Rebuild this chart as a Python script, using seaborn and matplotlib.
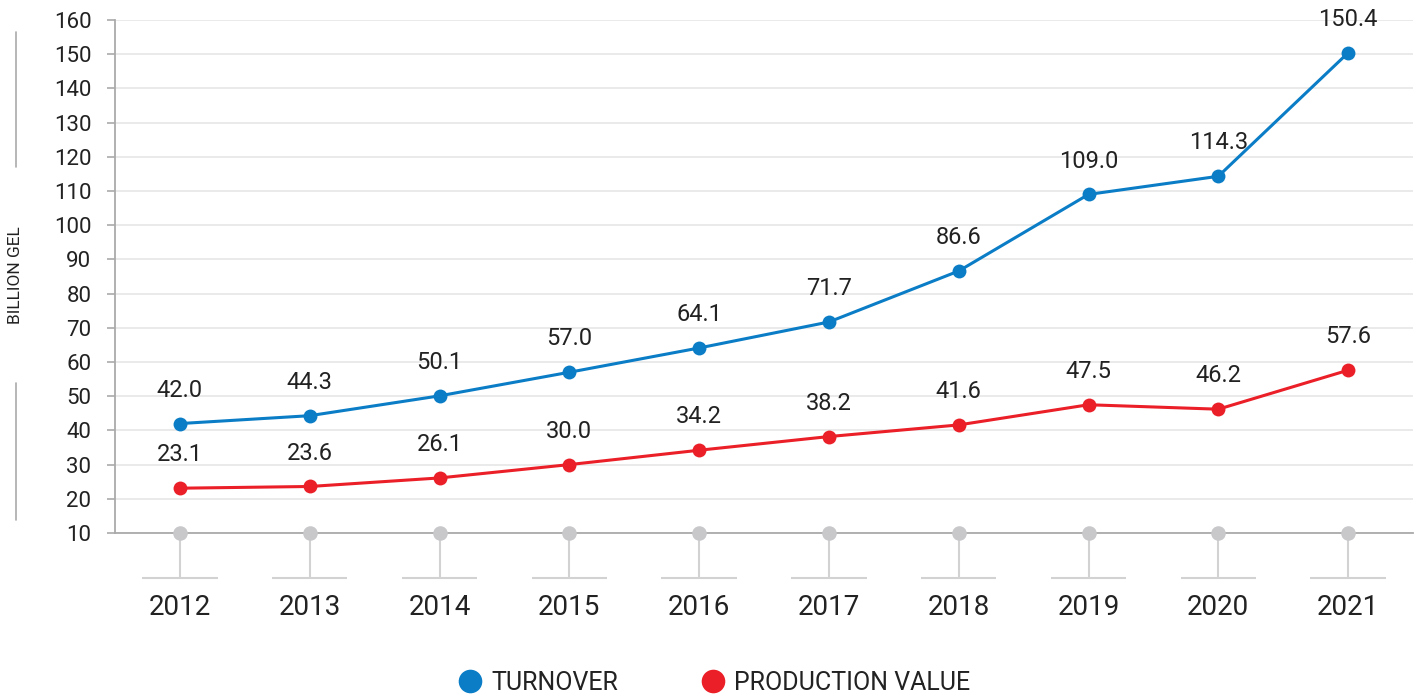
import pandas as pd
import matplotlib.pyplot as plt
import seaborn as sns
from matplotlib.lines import Line2D

years = [2012, 2013, 2014, 2015, 2016, 2017, 2018, 2019, 2020, 2021]
turnover = [42.0, 44.3, 50.1, 57.0, 64.1, 71.7, 86.6, 109.0, 114.3, 150.4]
production = [23.1, 23.6, 26.1, 30.0, 34.2, 38.2, 41.6, 47.5, 46.2, 57.6]
series_names = ["TURNOVER", "PRODUCTION VALUE"]
colors = ["#0a7dc6", "#eb1f27"]

df = pd.DataFrame({
    "year": years * 2,
    "value": turnover + production,
    "series": [series_names[0]] * len(years) + [series_names[1]] * len(years),
})

sns.set_style("white")
plt.rcParams["font.family"] = ["Roboto", "DejaVu Sans"]
text_col = "#222222"
axis_col = "#aaaaaa"

fig = plt.figure(figsize=(14.18, 6.97), dpi=100)
ax = fig.add_axes([115 / 1418, 164 / 697, 1298 / 1418, 513 / 697])

ax.set_axisbelow(True)
ax.yaxis.grid(True, color="#e6e6e6", linewidth=1.2)

sns.lineplot(data=df, x="year", y="value", hue="series", palette=colors,
             hue_order=series_names, marker="o", markersize=10, linewidth=2.2,
             markeredgewidth=0, legend=False, ax=ax, zorder=3)

# value labels
for vals in (turnover, production):
    for yr, v in zip(years, vals):
        ax.annotate(f"{v:.1f}", (yr, v), xytext=(0, 24), textcoords="offset points",
                    ha="center", va="center", fontsize=17, color=text_col)

# grey dots on baseline
ax.scatter(years, [10] * len(years), s=110, color="#c8c8cb", zorder=4, clip_on=False, linewidths=0)

ax.set_xlim(2011.5, 2021.5)
ax.set_ylim(10, 160)
ax.set_yticks(range(10, 161, 10))
ax.set_xticks(years)
ax.set_xticklabels([str(y) for y in years])

for side in ["top", "right"]:
    ax.spines[side].set_visible(False)
for side in ["left", "bottom"]:
    ax.spines[side].set_color(axis_col)
    ax.spines[side].set_linewidth(1.3)

ax.tick_params(axis="y", length=6, width=1.2, color=axis_col, pad=11,
               labelsize=16, labelcolor=text_col, left=True)
ax.tick_params(axis="x", length=32.5, width=1.5, color="#d2d2d2", pad=11.5,
               labelsize=20, labelcolor=text_col, bottom=True, direction="out")

# short horizontal bars under each year tick
tick_bottom = -45 / 513
ax.hlines([tick_bottom] * len(years), [y - 0.29 for y in years], [y + 0.29 for y in years],
          transform=ax.get_xaxis_transform(), color="#d2d2d2", linewidth=1.5, clip_on=False)

ax.set_xlabel("")
ax.set_ylabel("")

# y label with lines
fig.text(16 / 1418, 1 - 275 / 697, "BILLION GEL", rotation=90, ha="center", va="center",
         fontsize=12.5, color=text_col)
for y0, y1 in [(32, 167), (383, 520)]:
    fig.add_artist(Line2D([16 / 1418, 16 / 1418], [1 - y0 / 697, 1 - y1 / 697],
                          transform=fig.transFigure, color="#aaaaaa", linewidth=1.2))

handles = [Line2D([], [], marker="o", linestyle="", markersize=17, color=c, markeredgewidth=0)
           for c in colors]
fig.legend(handles, series_names, loc="center", bbox_to_anchor=(714 / 1418, 1 - 683 / 697),
           ncol=2, frameon=False, fontsize=18, handletextpad=0.35, columnspacing=3.3,
           labelcolor=text_col, handlelength=1.0)

fig.savefig("out.png", dpi=100)
plt.close()
